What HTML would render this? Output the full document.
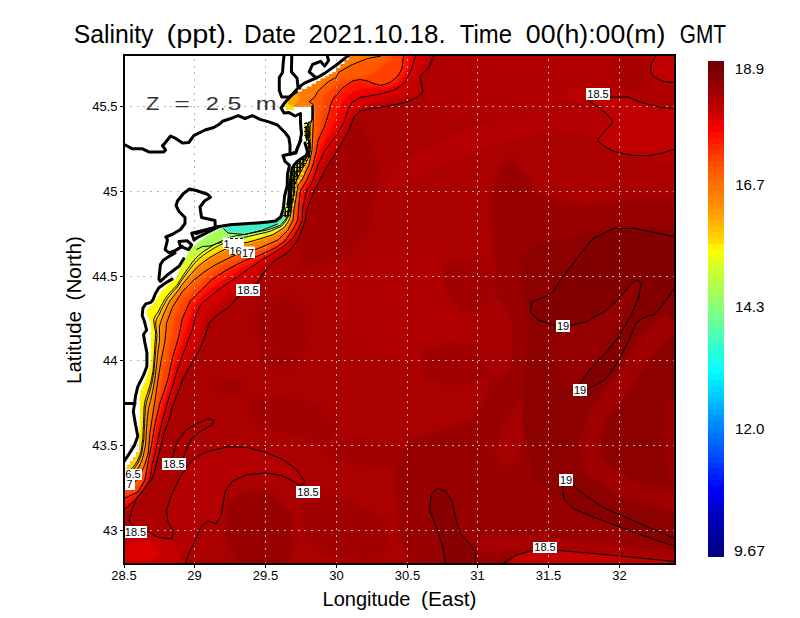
<!DOCTYPE html>
<html><head><meta charset="utf-8"><title>Salinity</title>
<style>
html,body{margin:0;padding:0;background:#fff;width:800px;height:618px;overflow:hidden;}
svg{display:block;}
text{font-family:"Liberation Sans",sans-serif;}
</style></head><body>
<svg width="800" height="618" viewBox="0 0 800 618">
<rect width="800" height="618" fill="#fff"/>

<defs>
<clipPath id="sea"><path d="M353.0 55.0 L677.0 55.0 L677.0 566.0 L121.0 566.0 L121.0 468.0 L127.0 468.0 L127.0 465.0 L130.0 465.0 L130.0 461.0 L133.0 461.0 L133.0 457.0 L136.0 457.0 L136.0 452.0 L139.0 452.0 L139.0 444.0 L139.5 430.0 L140.0 410.0 L139.5 398.0 L140.5 391.0 L144.6 382.0 L148.0 373.0 L150.5 362.0 L151.0 345.0 L151.0 330.0 L150.5 322.5 L148.0 318.0 L146.5 311.0 L148.5 307.5 L153.5 304.0 L157.0 298.0 L161.0 292.0 L168.0 285.0 L175.5 279.0 L179.5 270.0 L185.0 260.0 L188.0 253.0 L192.0 248.0 L197.0 243.0 L208.0 235.0 L222.0 228.0 L230.0 226.0 L245.0 224.5 L260.0 223.5 L276.0 222.0 L282.0 217.0 L285.0 210.0 L287.0 200.0 L288.0 185.0 L289.5 175.0 L292.0 167.0 L297.0 161.0 L302.0 157.0 L307.0 153.0 L307.0 143.0 L304.0 135.0 L304.0 123.0 L311.0 121.0 L311.0 107.0 L294.0 107.0 L294.0 110.0 L286.0 110.0 L286.0 103.0 L292.0 97.0 L297.0 94.0 L297.0 91.8 L301.9 91.8 L301.9 89.1 L306.7 89.1 L306.7 86.4 L311.6 86.4 L311.6 83.7 L316.1 83.7 L316.1 81.0 L320.5 81.0 L320.5 78.3 L325.0 78.3 L325.0 76.2 L328.7 76.2 L328.7 74.1 L332.3 74.1 L332.3 72.0 L336.0 72.0 L336.0 68.0 L340.2 68.0 L340.2 64.0 L344.5 64.0 L344.5 60.0 L348.8 60.0 L348.8 56.0 Z"/></clipPath>
<clipPath id="plot"><rect x="125" y="56" width="549" height="507"/></clipPath>
<filter id="bl" x="-5%" y="-5%" width="110%" height="110%"><feGaussianBlur stdDeviation="1.6"/></filter>
<linearGradient id="gIn" gradientUnits="userSpaceOnUse" x1="290" y1="210" x2="140" y2="470"><stop offset="0" stop-color="#40f0c8"/><stop offset="0.12" stop-color="#48f4c0"/><stop offset="0.2" stop-color="#90ff70"/><stop offset="0.3" stop-color="#c8ff38"/><stop offset="0.42" stop-color="#ffff00"/><stop offset="0.85" stop-color="#ffee00"/><stop offset="1" stop-color="#ffb400"/></linearGradient>
<linearGradient id="gIn2" gradientUnits="userSpaceOnUse" x1="290" y1="210" x2="140" y2="470"><stop offset="0" stop-color="#58ffa8"/><stop offset="0.12" stop-color="#70ff90"/><stop offset="0.22" stop-color="#b0ff50"/><stop offset="0.32" stop-color="#e0ff20"/><stop offset="0.4" stop-color="#ffff00"/><stop offset="1" stop-color="#ffe000"/></linearGradient>
<linearGradient id="gIn3" gradientUnits="userSpaceOnUse" x1="290" y1="210" x2="140" y2="470"><stop offset="0" stop-color="#a8ff58"/><stop offset="0.15" stop-color="#c0ff40"/><stop offset="0.25" stop-color="#e8ff18"/><stop offset="0.35" stop-color="#ffff00"/><stop offset="0.55" stop-color="#ffd800"/><stop offset="1" stop-color="#ffc000"/></linearGradient>
<linearGradient id="gIn4" gradientUnits="userSpaceOnUse" x1="290" y1="210" x2="140" y2="470"><stop offset="0" stop-color="#f0ff10"/><stop offset="0.15" stop-color="#ffff00"/><stop offset="0.3" stop-color="#ffd000"/><stop offset="0.55" stop-color="#ffac00"/><stop offset="1" stop-color="#ffa000"/></linearGradient>
</defs>
<g clip-path="url(#sea)"><g clip-path="url(#plot)"><g filter="url(#bl)">
<rect x="100" y="40" width="600" height="540" fill="#aa0000"/>
<path d="M420.0 50.0 L690.0 50.0 L690.0 98.0 L640.0 97.0 L600.0 100.0 L560.0 106.0 L520.0 112.0 L480.0 118.0 L440.0 116.0 L425.0 104.0 Z" fill="#b20000"/>
<path d="M385.0 178.0 L405.0 160.0 L440.0 140.0 L480.0 125.0 L520.0 115.0 L560.0 108.0 L600.0 108.0 L625.0 118.0 L650.0 135.0 L690.0 140.0 L690.0 165.0 L650.0 162.0 L615.0 150.0 L585.0 135.0 L555.0 130.0 L520.0 138.0 L480.0 150.0 L440.0 168.0 L405.0 185.0 L390.0 192.0 Z" fill="#b40000"/>
<path d="M335.0 265.0 L370.0 250.0 L420.0 248.0 L470.0 262.0 L480.0 300.0 L470.0 340.0 L440.0 360.0 L390.0 360.0 L350.0 345.0 L330.0 310.0 Z" fill="#b00000"/>
<path d="M300.0 110.0 L330.0 100.0 L360.0 120.0 L380.0 170.0 L370.0 230.0 L340.0 260.0 L300.0 270.0 Z" fill="#a20000"/>
<path d="M258.0 300.0 L290.0 295.0 L305.0 310.0 L307.0 340.0 L300.0 365.0 L280.0 372.0 L262.0 360.0 L255.0 330.0 Z" fill="#a20000"/>
<path d="M212.0 385.0 L230.0 378.0 L245.0 382.0 L240.0 392.0 L220.0 395.0 Z" fill="#a20000"/>
<path d="M245.0 400.0 L280.0 395.0 L320.0 405.0 L337.0 425.0 L330.0 440.0 L300.0 438.0 L270.0 430.0 L250.0 418.0 Z" fill="#a20000"/>
<path d="M228.0 500.0 L250.0 490.0 L275.0 495.0 L292.0 515.0 L295.0 545.0 L285.0 570.0 L240.0 570.0 L225.0 540.0 Z" fill="#980000"/>
<path d="M300.0 500.0 L330.0 495.0 L360.0 505.0 L385.0 520.0 L390.0 545.0 L370.0 560.0 L330.0 555.0 L305.0 535.0 Z" fill="#a00000"/>
<path d="M320.0 445.0 L360.0 440.0 L400.0 448.0 L420.0 460.0 L400.0 470.0 L360.0 466.0 L330.0 458.0 Z" fill="#a20000"/>
<path d="M442.0 262.0 L480.0 258.0 L495.0 280.0 L490.0 316.0 L460.0 312.0 L445.0 290.0 Z" fill="#a20000"/>
<path d="M420.0 350.0 L450.0 342.0 L485.0 345.0 L490.0 380.0 L460.0 386.0 L425.0 380.0 Z" fill="#a20000"/>
<path d="M490.0 200.0 L500.0 165.0 L512.0 158.0 L525.0 175.0 L540.0 195.0 L560.0 200.0 L590.0 205.0 L620.0 200.0 L690.0 195.0 L690.0 580.0 L420.0 580.0 L400.0 540.0 L394.0 470.0 L410.0 440.0 L440.0 430.0 L470.0 420.0 L485.0 400.0 L495.0 360.0 L497.0 320.0 L495.0 260.0 Z" fill="#990000"/>
<path d="M505.0 470.0 L520.0 450.0 L540.0 430.0 L548.0 400.0 L540.0 380.0 L520.0 400.0 L500.0 430.0 L495.0 455.0 Z" fill="#a60000"/>
<path d="M480.0 306.0 L500.0 300.0 L512.0 320.0 L511.0 370.0 L495.0 380.0 L482.0 360.0 Z" fill="#a80000"/>
<path d="M520.0 255.0 L535.0 245.0 L560.0 240.0 L590.0 232.0 L620.0 226.0 L690.0 228.0 L690.0 545.0 L640.0 530.0 L600.0 515.0 L560.0 500.0 L535.0 480.0 L522.0 420.0 L528.0 330.0 Z" fill="#8c0000"/>
<path d="M563.0 326.0 L641.0 282.0 L580.0 390.0 L560.0 380.0 L548.0 350.0 Z" fill="#940000"/>
<path d="M665.6 314.3 L652.8 325.1 L637.0 344.0 L611.8 379.2 L588.1 413.4 L579.0 444.6 L587.3 474.4 L620.8 497.1 L657.6 507.7 L693.0 514.8 L697.0 495.2 L662.4 488.3 L629.2 478.9 L602.7 461.6 L599.0 445.4 L605.9 422.6 L628.2 390.8 L653.0 356.0 L667.2 338.9 L678.4 329.7 Z" fill="#a00000"/>
<path d="M664.0 400.0 L690.0 395.0 L690.0 500.0 L668.0 482.0 L662.0 440.0 Z" fill="#980000"/>
<path d="M480.0 535.0 L520.0 535.0 L560.0 538.0 L600.0 542.0 L640.0 548.0 L690.0 552.0 L690.0 562.0 L640.0 558.0 L596.0 554.0 L557.0 551.0 L520.0 549.0 L480.0 552.0 Z" fill="#a80000"/>
<path d="M583.4 250.0 L593.0 238.7 L613.8 228.4 L634.5 228.4 L676.0 237.0 L690.0 240.0 L690.0 286.0 L676.0 286.2 L664.9 301.7 L654.5 314.7 L646.8 316.0 L636.4 322.4 L628.7 340.6 L618.3 361.3 L605.4 379.4 L587.3 389.7 L579.5 384.0 L592.4 366.4 L605.4 353.5 L619.6 335.4 L631.3 314.7 L639.0 296.6 L641.1 283.6 L637.7 279.8 L631.3 283.6 L618.3 299.2 L605.4 310.8 L587.3 321.2 L569.7 325.8 L556.0 325.8 L538.1 319.9 L530.3 312.1 L531.6 301.7 L545.9 296.6 L553.6 291.4 L561.4 278.5 L571.7 265.5 Z" fill="#820000"/>
<path d="M562.4 486.0 L564.0 499.2 L573.6 508.8 L592.8 516.8 L618.4 526.4 L644.0 536.0 L672.8 545.6 L690.0 548.0 L690.0 539.0 L676.0 539.2 L650.4 528.0 L624.8 516.8 L605.6 508.8 L586.4 496.0 L572.0 484.8 Z" fill="#860000"/>
<path d="M445.6 566.0 L442.4 545.6 L436.0 526.4 L429.6 510.4 L431.2 494.4 L437.6 488.0 L445.6 491.2 L452.0 500.8 L455.2 516.8 L460.0 532.8 L471.2 545.6 L476.0 553.6 L474.4 566.0 Z" fill="#880000"/>
<path d="M585.8 97.5 L589.5 101.2 L596.9 105.8 L606.1 113.2 L612.6 120.6 L611.7 124.3 L606.1 129.8 L599.7 137.2 L597.8 140.9 L604.3 146.4 L615.4 152.0 L633.8 155.6 L648.6 155.6 L663.3 152.9 L690.0 147.0 L690.0 109.0 L676.0 108.6 L663.3 107.7 L648.6 104.3 L637.5 101.2 L628.3 97.0 L609.8 97.0 Z" fill="#c00000"/>
<path d="M612.0 50.0 L640.0 50.0 L648.0 70.0 L652.0 85.0 L640.0 93.0 L625.0 92.0 L615.0 75.0 Z" fill="#a80000"/>
<path d="M656.0 50.0 L651.0 64.0 L650.4 72.0 L654.0 77.0 L663.0 81.5 L690.0 83.0 L690.0 50.0 Z" fill="#c00000"/>
<path d="M568.0 92.0 L578.0 88.0 L588.0 92.0 L590.0 100.0 L578.0 102.0 L568.0 99.0 Z" fill="#c00000"/>
<path d="M501.6 570.0 L516.0 555.2 L532.0 550.4 L545.0 548.0 L557.0 550.4 L596.0 553.6 L644.0 558.4 L690.0 561.6 L690.0 570.0 Z" fill="#c80000"/>
<path d="M433.5 54.0 L433.5 56.0 L429.0 67.5 L420.0 76.5 L421.5 84.0 L423.0 91.5 L417.0 97.5 L406.5 102.0 L390.0 105.8 L375.0 108.0 L360.0 111.0 L354.0 117.0 L349.5 129.0 L345.0 137.0 L338.0 150.0 L328.0 165.0 L320.0 180.0 L317.5 185.0 L314.1 191.0 L306.8 210.0 L305.3 220.0 L302.0 230.0 L298.0 240.0 L291.0 249.0 L285.0 254.5 L275.0 260.3 L268.5 266.8 L263.3 273.3 L259.4 279.7 L256.0 286.0 L248.0 292.0 L238.6 296.5 L228.9 307.2 L217.2 315.0 L209.4 322.7 L205.6 334.4 L199.7 349.9 L193.9 359.6 L186.1 373.2 L182.3 380.0 L179.1 389.7 L172.6 405.9 L169.3 418.9 L164.5 431.8 L161.2 444.8 L158.0 457.7 L154.8 470.7 L151.5 480.0 L146.0 487.0 L138.0 496.0 L132.0 509.0 L129.0 521.0 L135.0 528.0 L147.0 531.0 L158.3 537.5 L172.0 538.9 L173.4 532.0 L167.9 521.0 L166.5 510.0 L172.0 493.5 L180.3 477.0 L191.3 460.5 L205.0 452.3 L227.0 446.8 L246.3 447.3 L265.5 452.3 L282.0 459.1 L295.8 468.8 L305.0 482.0 L300.0 486.0 L295.8 482.5 L282.0 475.6 L265.5 472.9 L246.3 474.8 L232.5 481.1 L225.6 490.8 L222.9 504.5 L221.0 515.5 L216.0 523.8 L207.8 521.0 L200.9 526.5 L195.4 540.3 L188.5 554.0 L184.4 566.0 L184.4 570.0 L110.0 570.0 L110.0 54.0 Z" fill="#b40000"/>
<path d="M431.3 54.0 L431.0 56.9 L429.9 59.7 L428.9 62.5 L427.8 65.3 L426.5 68.0 L424.5 70.2 L422.5 72.4 L420.5 74.5 L418.5 76.7 L418.8 79.6 L419.1 82.5 L419.3 85.3 L419.6 88.1 L419.8 90.9 L417.9 93.0 L415.7 95.0 L413.4 96.9 L410.7 98.0 L407.9 99.1 L405.1 100.3 L402.3 101.3 L399.4 101.9 L396.5 102.6 L393.6 103.2 L390.6 103.8 L387.7 104.5 L384.8 105.0 L381.9 105.6 L378.9 106.1 L376.0 106.7 L373.2 107.4 L370.4 108.2 L367.7 109.0 L365.0 109.8 L362.3 110.7 L359.6 111.5 L357.2 113.0 L355.2 115.2 L353.2 117.4 L351.8 120.0 L350.7 122.8 L349.6 125.5 L348.4 128.3 L347.2 131.0 L345.7 133.6 L344.2 136.2 L342.7 138.8 L341.2 141.4 L339.7 144.0 L338.3 146.6 L336.9 149.2 L335.4 151.8 L333.8 154.3 L332.2 156.9 L330.6 159.4 L329.0 161.9 L327.4 164.4 L325.9 167.0 L324.6 169.7 L323.2 172.3 L321.8 175.0 L320.5 177.7 L319.0 180.3 L317.6 182.9 L316.2 185.6 L314.9 188.2 L313.5 190.9 L312.4 193.6 L311.3 196.4 L310.3 199.2 L309.3 202.0 L308.3 204.9 L307.4 207.7 L306.4 210.5 L305.9 213.4 L305.4 216.4 L304.9 219.3 L304.1 222.2 L303.1 225.0 L302.1 227.8 L301.1 230.6 L300.0 233.4 L298.7 236.1 L297.5 238.7 L296.0 241.3 L294.1 243.6 L292.2 245.9 L290.3 248.2 L288.2 250.3 L285.9 252.2 L283.7 254.2 L281.1 255.8 L278.5 257.3 L276.0 258.8 L273.4 260.3 L271.2 262.4 L269.1 264.4 L266.9 266.5 L265.0 268.7 L263.0 271.0 L261.1 273.3 L259.5 275.8 L257.8 278.2 L256.2 280.8 L254.7 283.3 L252.9 285.6 L250.5 287.3 L248.1 289.1 L245.7 290.9 L243.0 292.2 L240.3 293.6 L237.6 294.9 L235.3 296.7 L233.3 298.9 L231.2 301.0 L229.2 303.2 L227.1 305.4 L224.8 307.2 L222.3 308.9 L219.8 310.6 L217.4 312.3 L215.0 314.1 L213.0 316.3 L211.0 318.4 L208.9 320.6 L207.4 323.1 L206.5 325.9 L205.6 328.8 L204.7 331.6 L203.7 334.5 L202.7 337.3 L201.6 340.1 L200.6 342.9 L199.5 345.7 L198.4 348.5 L197.1 351.1 L195.6 353.7 L194.1 356.3 L192.6 358.9 L191.2 361.5 L189.7 364.1 L188.3 366.8 L186.9 369.4 L185.5 372.0 L184.0 374.6 L182.6 377.3 L181.3 380.0 L180.4 382.8 L179.5 385.6 L178.6 388.5 L177.5 391.3 L176.4 394.1 L175.3 396.9 L174.2 399.7 L173.1 402.4 L172.1 405.2 L171.3 408.1 L170.6 411.0 L169.8 413.9 L169.1 416.8 L168.2 419.7 L167.2 422.5 L166.2 425.3 L165.2 428.1 L164.1 430.9 L163.4 433.8 L162.7 436.7 L161.9 439.6 L161.2 442.5 L160.5 445.4 L159.8 448.4 L159.1 451.3 L158.4 454.2 L157.7 457.1 L157.0 460.0 L156.2 462.9 L155.5 465.8 L154.8 468.7 L153.9 471.6 L153.0 474.4 L152.1 477.2 L150.9 479.9 L149.2 482.4 L147.5 484.8 L145.7 487.1 L143.7 489.4 L141.8 491.7 L139.8 493.9 L138.0 496.3 L136.3 498.8 L134.7 501.3 L133.0 503.7 L131.3 506.2 L129.6 508.6 L127.9 511.1 L126.2 513.5 L124.4 515.9 L122.7 518.4 L121.0 520.8 L121.0 520.0 L110.0 520.0 L110.0 54.0 Z" fill="#c20000"/>
<path d="M423.6 54.0 L423.3 56.9 L422.3 59.7 L421.4 62.5 L420.4 65.3 L419.3 68.0 L417.9 70.5 L416.2 72.8 L414.5 75.2 L412.8 77.6 L412.4 80.4 L411.6 82.9 L410.6 85.1 L409.6 87.4 L408.5 89.7 L406.4 91.6 L403.9 92.9 L401.4 94.3 L398.6 95.2 L395.8 96.2 L393.0 97.1 L390.2 98.0 L387.3 98.6 L384.4 99.1 L381.5 99.7 L378.6 100.3 L375.7 100.8 L372.8 101.3 L370.1 102.3 L367.4 103.3 L364.7 104.3 L362.4 105.8 L360.3 107.5 L358.1 109.1 L356.3 110.9 L354.5 112.7 L352.7 114.4 L351.0 116.6 L349.5 119.0 L347.7 121.3 L346.3 123.9 L345.0 126.5 L343.7 129.2 L342.4 131.8 L340.9 134.3 L339.3 136.8 L337.7 139.3 L336.1 141.7 L334.5 144.2 L332.9 146.7 L331.5 149.3 L330.1 151.9 L328.7 154.5 L327.3 157.1 L325.8 159.6 L324.4 162.2 L323.1 164.8 L321.9 167.5 L320.7 170.2 L319.5 172.9 L318.4 175.6 L317.2 178.3 L315.9 180.9 L314.4 183.4 L312.8 185.9 L311.3 188.5 L310.4 191.2 L309.4 194.0 L308.5 196.8 L307.7 199.6 L306.9 202.4 L306.1 205.2 L305.5 208.1 L304.9 211.0 L304.4 213.8 L304.1 216.7 L303.3 219.5 L302.5 222.4 L301.6 225.1 L300.3 227.8 L299.1 230.5 L297.9 233.1 L296.6 235.8 L294.8 238.1 L293.1 240.4 L291.3 242.6 L289.3 244.7 L287.1 246.7 L284.9 248.7 L282.7 250.5 L280.4 252.3 L278.0 254.1 L275.5 255.6 L272.9 257.1 L270.4 258.6 L267.8 260.1 L265.5 261.9 L263.3 263.8 L261.0 265.6 L258.8 267.6 L256.6 269.5 L254.5 271.5 L252.5 273.6 L250.5 275.7 L248.6 277.8 L246.6 279.9 L244.5 281.9 L242.1 283.6 L239.7 285.3 L237.2 287.0 L234.7 288.5 L232.2 289.9 L229.6 291.4 L227.3 293.2 L225.1 295.2 L223.0 297.2 L220.8 299.2 L218.6 301.2 L216.3 303.0 L214.0 304.8 L211.6 306.5 L209.4 308.5 L207.6 310.6 L205.9 313.0 L204.2 315.4 L202.6 317.8 L201.4 320.4 L200.6 323.2 L199.8 326.1 L199.0 328.9 L198.2 331.8 L197.2 334.6 L196.2 337.3 L195.1 340.1 L194.1 342.8 L193.0 345.6 L191.8 348.3 L190.6 350.9 L189.3 353.6 L188.1 356.2 L186.8 358.9 L185.6 361.6 L184.4 364.3 L183.2 367.0 L182.0 369.6 L180.8 372.3 L179.7 375.0 L178.6 377.8 L177.7 380.6 L176.8 383.4 L176.0 386.2 L175.0 389.0 L174.0 391.8 L173.0 394.6 L172.0 397.3 L171.1 400.1 L170.1 402.9 L169.4 405.8 L168.6 408.6 L167.8 411.5 L167.1 414.3 L166.2 417.2 L165.3 420.0 L164.4 422.8 L163.5 425.6 L162.7 428.4 L161.9 431.3 L161.2 434.1 L160.6 437.0 L159.9 439.9 L159.3 442.8 L158.6 445.7 L158.0 448.5 L157.4 451.4 L156.6 454.3 L155.9 457.1 L155.2 460.0 L154.5 462.9 L153.8 465.7 L153.0 468.6 L152.4 471.4 L151.7 474.3 L150.9 477.1 L149.8 479.7 L148.7 482.4 L147.0 484.8 L145.2 487.1 L143.4 489.5 L141.7 491.8 L139.9 494.2 L138.3 496.7 L136.5 499.0 L134.6 501.2 L132.7 503.5 L130.9 505.8 L129.0 508.0 L127.0 510.2 L125.0 512.3 L123.0 514.4 L121.0 516.5 L121.0 515.0 L110.0 515.0 L110.0 54.0 Z" fill="#d60000"/>
<path d="M415.5 54.0 L415.5 56.0 L411.0 70.5 L405.0 82.5 L394.5 90.0 L378.0 94.5 L360.0 97.5 L352.5 102.0 L348.0 109.5 L344.0 122.0 L336.5 135.0 L325.3 150.0 L318.0 165.0 L313.0 180.0 L310.8 185.0 L306.3 191.0 L302.5 210.0 L302.3 220.0 L299.0 228.0 L293.0 238.3 L284.0 246.1 L272.4 253.8 L263.3 259.0 L255.5 264.2 L247.8 269.4 L240.0 275.2 L232.7 280.0 L221.1 287.8 L211.4 295.5 L201.7 303.3 L195.8 315.0 L192.0 330.5 L186.1 346.0 L180.3 361.6 L176.4 373.2 L172.6 386.0 L169.3 396.2 L162.9 418.9 L159.6 431.8 L156.4 448.0 L152.3 464.2 L149.9 480.0 L140.0 495.0 L130.0 505.0 L121.0 512.0 L110.0 512.0 L110.0 54.0 Z" fill="#f00000"/>
<path d="M409.5 54.0 L409.3 56.9 L408.7 59.7 L408.1 62.6 L407.5 65.4 L406.9 68.3 L405.8 70.9 L404.4 73.5 L403.0 76.1 L401.3 78.3 L399.5 80.5 L397.4 82.5 L394.9 84.0 L392.4 85.3 L389.8 86.6 L387.2 87.6 L384.4 87.7 L381.6 87.7 L378.8 87.5 L376.0 87.3 L373.2 87.3 L370.4 87.4 L367.5 87.3 L364.7 87.8 L361.8 88.3 L359.0 89.0 L356.3 90.0 L353.7 91.1 L351.3 92.7 L348.8 94.3 L346.6 96.1 L344.8 98.4 L343.1 100.8 L341.4 103.1 L340.0 105.6 L339.1 108.4 L338.1 111.1 L337.2 113.9 L336.5 116.7 L335.3 119.3 L334.1 122.0 L333.0 124.7 L331.8 127.3 L330.6 130.0 L329.3 132.5 L327.8 135.0 L326.3 137.5 L324.8 140.0 L323.3 142.5 L321.9 145.0 L321.0 147.7 L320.1 150.5 L319.2 153.2 L318.3 156.0 L317.3 158.7 L316.3 161.4 L315.5 164.2 L314.7 167.0 L313.9 169.8 L312.9 172.6 L311.8 175.3 L310.8 178.0 L309.6 180.7 L308.3 183.3 L306.7 185.7 L305.2 188.2 L304.1 190.8 L303.0 193.5 L302.3 196.3 L301.9 199.2 L301.5 202.0 L301.1 204.9 L300.8 207.8 L300.6 210.7 L300.4 213.7 L300.3 216.6 L299.6 219.4 L298.9 222.2 L298.0 224.9 L296.6 227.5 L295.2 230.0 L293.8 232.6 L292.2 235.0 L290.3 237.2 L288.3 239.3 L286.4 241.5 L284.4 243.6 L282.0 245.3 L279.6 246.9 L277.2 248.6 L274.8 250.2 L272.2 251.6 L269.7 253.0 L267.1 254.4 L264.5 255.7 L261.9 257.0 L259.4 258.4 L256.8 259.8 L254.2 261.1 L251.6 262.4 L249.0 263.7 L246.5 265.1 L244.0 266.5 L241.5 268.0 L239.0 269.5 L236.5 271.0 L234.0 272.5 L231.5 274.0 L229.0 275.5 L226.5 277.1 L224.1 278.7 L221.7 280.3 L219.2 281.9 L216.9 283.6 L214.5 285.3 L212.3 287.2 L210.1 289.1 L207.9 291.1 L205.7 293.0 L203.6 295.0 L201.4 296.9 L199.4 299.0 L197.8 301.4 L196.1 303.7 L194.4 306.0 L192.8 308.4 L191.8 311.2 L190.9 313.9 L190.0 316.7 L189.0 319.4 L188.1 322.2 L187.1 324.9 L186.2 327.7 L185.4 330.5 L184.6 333.3 L183.8 336.1 L183.0 338.9 L182.2 341.7 L181.4 344.5 L180.4 347.2 L179.5 350.0 L178.6 352.8 L177.7 355.5 L176.8 358.3 L175.9 361.1 L175.0 363.9 L174.2 366.7 L173.5 369.5 L172.8 372.3 L172.1 375.2 L171.4 378.0 L170.7 380.8 L169.9 383.6 L169.0 386.4 L168.1 389.2 L167.3 392.0 L166.4 394.8 L165.6 397.6 L164.7 400.4 L163.8 403.1 L163.0 405.9 L162.1 408.7 L161.3 411.5 L160.6 414.4 L159.9 417.2 L159.2 420.0 L158.5 422.9 L157.9 425.7 L157.2 428.6 L156.6 431.4 L156.1 434.3 L155.6 437.2 L155.1 440.0 L154.5 442.9 L153.9 445.7 L153.3 448.6 L152.7 451.5 L152.1 454.3 L151.4 457.1 L150.8 460.0 L150.3 462.9 L149.8 465.8 L149.4 468.6 L148.9 471.5 L148.4 474.4 L147.4 477.1 L146.3 479.7 L145.3 482.4 L144.2 485.0 L142.6 487.5 L141.1 490.0 L139.4 492.3 L137.6 494.6 L135.6 496.6 L133.2 498.3 L130.9 499.9 L128.4 501.5 L125.9 503.0 L123.5 504.5 L121.0 506.0 L110.0 505.0 L110.0 54.0 Z" fill="#ff1400"/>
<path d="M403.5 54.0 L403.5 56.0 L402.0 69.0 L397.5 76.5 L390.0 82.5 L381.0 85.5 L375.0 84.0 L367.5 81.0 L360.0 79.5 L352.5 81.0 L342.0 88.5 L333.0 99.0 L330.0 106.5 L329.8 109.4 L324.6 126.2 L318.1 140.4 L316.6 150.0 L313.0 165.0 L307.0 180.0 L304.0 185.0 L300.3 191.0 L298.5 210.0 L297.8 220.0 L294.0 228.0 L285.0 240.9 L276.2 247.4 L265.9 252.5 L256.8 256.4 L249.0 259.0 L240.0 262.9 L225.0 271.0 L211.4 280.0 L201.7 289.7 L190.0 301.4 L182.3 318.8 L178.4 338.3 L172.5 357.7 L168.5 377.0 L164.5 390.0 L159.6 404.3 L154.8 425.3 L151.5 444.8 L148.3 461.0 L145.0 480.0 L138.0 492.0 L121.0 500.0 L110.0 500.0 L110.0 54.0 Z" fill="#ff4000"/>
<path d="M392.2 54.0 L391.8 56.5 L390.2 58.2 L388.7 60.0 L387.1 61.7 L385.5 63.4 L383.5 65.0 L381.5 66.8 L379.4 68.6 L377.0 70.1 L374.5 71.5 L372.1 73.0 L369.5 74.3 L366.9 75.4 L364.3 76.6 L361.6 77.5 L359.0 77.8 L356.5 78.2 L354.5 78.9 L352.4 79.6 L349.7 79.8 L347.1 80.2 L344.4 80.6 L341.9 81.8 L339.4 83.0 L337.0 84.4 L334.8 86.2 L332.6 88.1 L330.6 90.1 L328.8 92.2 L326.9 94.3 L324.8 96.3 L323.0 98.3 L323.2 100.2 L323.0 102.4 L322.6 105.2 L322.1 108.0 L321.7 110.8 L321.4 113.6 L321.0 116.5 L320.5 119.3 L320.0 122.1 L319.5 124.9 L319.1 127.7 L318.5 130.5 L317.8 133.2 L317.1 136.0 L316.4 138.7 L315.8 141.5 L315.1 144.2 L314.7 147.1 L314.2 149.9 L313.7 152.8 L313.1 155.6 L312.5 158.4 L311.9 161.2 L311.0 163.9 L310.1 166.6 L309.0 169.3 L307.9 171.9 L306.7 174.6 L305.6 177.2 L304.2 179.7 L302.7 182.1 L301.6 184.7 L300.6 187.4 L299.6 190.0 L298.7 192.7 L298.0 195.4 L297.6 198.3 L297.3 201.1 L296.9 204.0 L296.6 206.9 L296.3 209.7 L296.0 212.6 L295.7 215.5 L295.4 218.3 L294.6 221.0 L293.6 223.7 L292.3 226.3 L290.9 228.7 L289.2 231.0 L287.4 233.2 L285.5 235.4 L283.7 237.6 L281.7 239.7 L279.5 241.4 L277.1 242.8 L274.6 244.2 L272.1 245.7 L269.6 247.0 L267.0 248.2 L264.3 249.4 L261.7 250.5 L259.0 251.6 L256.3 252.5 L253.6 253.3 L250.8 254.2 L248.1 255.0 L245.3 255.8 L242.6 256.8 L240.0 258.0 L237.4 259.2 L234.7 260.3 L232.2 261.7 L229.6 263.0 L227.1 264.3 L224.5 265.6 L222.0 267.0 L219.4 268.4 L217.0 269.9 L214.6 271.5 L212.2 273.1 L209.8 274.6 L207.4 276.3 L205.2 278.1 L203.1 280.0 L200.9 281.9 L198.8 283.9 L196.8 285.9 L194.7 287.9 L192.7 290.0 L190.7 292.0 L188.6 294.1 L186.7 296.2 L185.0 298.5 L183.6 301.0 L182.3 303.6 L180.9 306.1 L179.6 308.6 L178.2 311.2 L177.1 313.8 L176.3 316.5 L175.5 319.3 L174.7 322.1 L173.9 324.8 L173.1 327.6 L172.7 330.4 L172.3 333.3 L171.7 336.1 L171.2 338.9 L170.6 341.7 L170.0 344.5 L169.5 347.3 L168.7 350.1 L168.0 352.9 L167.5 355.7 L166.9 358.6 L166.3 361.4 L165.7 364.2 L165.2 367.0 L164.7 369.9 L164.1 372.7 L163.5 375.5 L162.8 378.3 L162.2 381.1 L161.5 383.9 L160.8 386.7 L160.2 389.4 L159.5 392.2 L158.8 395.0 L158.1 397.8 L157.5 400.6 L157.0 403.4 L156.4 406.3 L155.9 409.1 L155.3 411.9 L154.8 414.7 L154.2 417.6 L153.7 420.4 L153.3 423.2 L152.8 426.1 L152.3 428.9 L151.9 431.8 L151.4 434.6 L151.0 437.4 L150.5 440.3 L150.1 443.1 L149.7 446.0 L149.3 448.8 L148.9 451.7 L148.5 454.5 L148.2 457.4 L147.6 460.2 L147.0 463.0 L146.4 465.8 L145.7 468.6 L145.0 471.4 L144.1 474.1 L142.7 476.6 L141.4 479.2 L140.0 481.7 L138.5 484.1 L136.7 486.3 L134.4 487.9 L131.7 489.0 L129.1 490.0 L126.4 491.0 L123.7 492.0 L121.0 493.0 L110.0 490.0 L110.0 54.0 Z" fill="#ff5a00"/>
<path d="M381.0 54.0 L381.0 56.0 L367.5 58.5 L352.5 64.5 L339.0 72.0 L336.0 77.5 L328.6 81.5 L322.2 87.2 L317.3 92.0 L314.9 96.9 L309.2 101.7 L313.0 104.2 L313.6 109.4 L313.0 130.0 L312.0 150.0 L309.0 165.0 L302.0 180.0 L298.0 185.0 L297.0 191.0 L294.0 210.0 L293.0 220.0 L288.0 230.0 L278.0 240.0 L262.0 247.0 L254.0 250.0 L240.0 253.0 L229.0 258.0 L215.0 265.0 L204.0 272.0 L193.9 280.0 L182.3 291.7 L172.5 307.2 L166.7 322.7 L164.8 342.1 L160.9 361.6 L158.0 380.0 L155.1 400.0 L153.1 412.4 L149.9 433.4 L148.3 452.9 L145.0 464.2 L140.0 475.0 L135.0 482.0 L121.0 486.0 L110.0 486.0 L110.0 54.0 Z" fill="#ff7c00"/>
<path d="M312.4 105.1 L312.5 107.4 L312.7 109.8 L312.7 112.1 L312.7 114.5 L312.6 116.8 L312.6 119.2 L311.8 121.0 L311.0 122.8 L310.2 124.6 L310.2 126.9 L310.1 129.3 L310.0 131.6 L310.0 134.0 L309.9 136.3 L310.0 138.6 L310.2 140.9 L310.4 143.2 L310.5 145.6 L310.4 147.9 L310.2 150.3 L309.9 152.6 L309.6 154.9 L308.7 156.9 L307.8 159.0 L306.9 161.0 L306.0 163.1 L304.7 165.0 L303.5 167.0 L302.4 169.0 L301.2 171.0 L300.1 173.1 L299.2 175.3 L298.3 177.4 L297.1 179.4 L295.9 181.4 L295.0 183.5 L294.6 185.8 L294.3 188.1 L293.9 190.4 L293.6 192.8 L293.3 195.1 L293.0 197.4 L292.7 199.8 L292.4 202.1 L292.1 204.4 L291.7 206.8 L291.4 209.1 L291.1 211.4 L290.8 213.7 L290.4 216.0 L289.8 218.3 L288.8 220.4 L287.6 222.5 L286.3 224.4 L285.1 226.3 L283.5 228.0 L281.7 229.2 L279.8 230.4 L277.9 231.6 L276.0 232.8 L274.1 234.0 L272.1 235.0 L269.9 235.7 L267.6 236.4 L265.4 237.1 L263.2 237.8 L261.0 238.5 L258.8 239.2 L256.5 239.8 L254.3 240.5 L252.0 241.1 L249.8 241.7 L247.5 242.3 L245.2 242.7 L242.9 243.1 L240.6 243.6 L238.3 244.1 L236.0 244.6 L233.7 245.2 L231.6 246.2 L229.5 247.2 L227.3 248.2 L225.2 249.2 L223.1 250.2 L221.0 251.3 L218.9 252.4 L216.9 253.5 L214.8 254.7 L212.8 255.9 L210.7 257.0 L208.7 258.3 L206.8 259.6 L204.9 261.0 L203.0 262.4 L201.2 263.8 L199.4 265.3 L197.7 266.8 L196.1 268.5 L194.5 270.2 L193.0 271.9 L191.4 273.5 L189.8 275.3 L188.3 277.1 L186.9 278.9 L185.4 280.7 L183.9 282.5 L182.5 284.3 L181.0 286.1 L179.8 288.1 L178.5 290.0 L177.0 291.8 L175.6 293.7 L174.1 295.5 L172.7 297.3 L171.3 299.2 L169.9 301.1 L168.8 303.1 L167.7 305.2 L166.7 307.3 L165.8 309.4 L164.8 311.6 L163.8 313.7 L162.9 315.9 L162.2 318.0 L161.5 320.1 L160.7 322.1 L160.1 324.2 L159.5 326.5 L159.5 328.8 L159.5 331.1 L159.5 333.5 L159.6 335.7 L159.6 338.0 L159.5 340.2 L159.2 342.6 L158.9 344.9 L158.7 347.2 L158.3 349.5 L158.0 351.9 L157.7 354.2 L157.5 356.5 L157.2 358.8 L157.0 361.2 L156.7 363.5 L156.4 365.8 L156.2 368.2 L155.9 370.5 L155.6 372.9 L155.4 375.2 L155.1 377.5 L154.7 379.8 L154.3 382.2 L153.9 384.5 L153.5 386.8 L153.1 389.1 L152.6 391.4 L152.1 393.7 L151.6 396.0 L151.1 398.3 L150.5 400.5 L150.0 402.8 L149.4 405.1 L148.8 407.3 L148.4 409.6 L148.1 412.0 L147.8 414.3 L147.5 416.6 L147.3 419.0 L147.1 421.3 L146.9 423.6 L146.7 426.0 L146.6 428.3 L146.4 430.7 L146.3 433.0 L146.1 435.4 L146.0 437.7 L145.8 440.1 L145.7 442.4 L145.5 444.8 L145.1 447.1 L144.6 449.4 L144.1 451.6 L143.7 453.9 L143.2 456.2 L142.5 458.4 L141.8 460.6 L140.8 462.8 L139.9 464.9 L138.9 467.1 L137.7 469.1 L136.4 471.1 L135.1 473.0 L133.6 474.7 L131.6 475.8 L129.6 476.8 L127.6 477.9 L125.4 478.7 L123.2 479.5 L121.0 480.2 L110.0 470.0 L110.0 140.0 L282.0 140.0 Z" fill="url(#gIn4)"/>
<path d="M312.0 105.7 L312.1 108.0 L312.2 110.3 L312.2 112.7 L312.2 115.1 L312.2 117.4 L312.1 119.7 L310.9 121.2 L309.6 122.6 L308.4 124.1 L308.4 126.4 L308.3 128.8 L308.3 131.1 L308.2 133.5 L308.1 135.8 L308.5 138.1 L308.8 140.4 L309.2 142.7 L309.5 145.0 L309.4 147.3 L309.3 149.7 L309.1 152.0 L308.8 154.3 L307.7 156.2 L306.5 158.1 L305.3 160.0 L304.2 161.8 L302.7 163.6 L301.4 165.5 L300.1 167.5 L298.9 169.4 L297.7 171.4 L296.8 173.6 L296.0 175.8 L294.9 177.9 L294.0 179.9 L293.2 182.1 L292.9 184.4 L292.5 186.8 L292.2 189.1 L291.9 191.4 L291.7 193.8 L291.4 196.1 L291.1 198.4 L290.9 200.8 L290.6 203.1 L290.2 205.4 L289.8 207.7 L289.5 210.1 L289.1 212.4 L288.6 214.7 L287.9 216.9 L286.9 219.0 L285.8 221.0 L284.3 222.8 L282.9 224.6 L281.3 226.3 L279.3 227.2 L277.2 228.1 L275.2 229.0 L273.2 229.9 L271.2 230.8 L269.0 231.6 L266.8 232.1 L264.5 232.7 L262.3 233.2 L260.0 233.7 L257.8 234.3 L255.5 234.8 L253.3 235.3 L251.0 235.8 L248.7 236.4 L246.4 236.9 L244.1 237.3 L241.8 237.7 L239.5 238.0 L237.2 238.5 L234.9 239.0 L232.6 239.5 L230.3 240.2 L228.2 241.2 L226.1 242.2 L224.0 243.2 L221.8 244.2 L219.7 245.2 L217.6 246.3 L215.5 247.4 L213.5 248.6 L211.5 249.8 L209.5 251.1 L207.5 252.3 L205.6 253.6 L203.7 255.0 L201.9 256.4 L200.0 257.9 L198.3 259.4 L196.6 261.0 L194.9 262.7 L193.5 264.4 L192.1 266.3 L190.7 268.1 L189.3 269.9 L187.9 271.7 L186.5 273.6 L185.1 275.5 L183.7 277.3 L182.4 279.3 L181.1 281.2 L179.8 283.1 L178.7 285.1 L177.3 287.0 L175.8 288.7 L174.2 290.4 L172.6 292.2 L171.1 293.9 L169.7 295.7 L168.2 297.6 L166.9 299.5 L165.7 301.4 L164.6 303.5 L163.5 305.6 L162.4 307.7 L161.4 309.8 L160.4 311.9 L159.5 314.0 L158.4 315.8 L157.3 317.6 L156.5 319.7 L155.7 321.9 L155.8 324.2 L155.9 326.5 L156.1 328.8 L156.5 331.0 L156.8 333.2 L156.9 335.5 L156.7 337.8 L156.6 340.1 L156.4 342.5 L156.2 344.8 L156.0 347.1 L155.7 349.5 L155.6 351.8 L155.4 354.1 L155.2 356.5 L155.0 358.8 L154.8 361.2 L154.6 363.5 L154.4 365.8 L154.2 368.2 L154.0 370.5 L153.8 372.9 L153.4 375.2 L152.9 377.5 L152.5 379.8 L152.1 382.1 L151.6 384.4 L151.0 386.7 L150.4 388.9 L149.8 391.2 L149.2 393.5 L148.5 395.7 L147.8 397.9 L147.1 400.2 L146.5 402.4 L146.0 404.7 L145.7 407.0 L145.3 409.4 L145.2 411.7 L145.1 414.0 L144.9 416.4 L144.8 418.7 L144.7 421.1 L144.6 423.4 L144.5 425.7 L144.4 428.1 L144.3 430.4 L144.1 432.8 L144.0 435.1 L143.9 437.5 L143.8 439.8 L143.4 442.2 L143.1 444.5 L142.7 446.8 L142.4 449.1 L142.0 451.4 L141.5 453.6 L140.9 455.9 L140.0 458.0 L139.1 460.2 L138.2 462.4 L137.0 464.4 L135.7 466.4 L134.4 468.3 L133.0 470.1 L131.1 471.4 L129.3 472.7 L127.5 474.0 L125.4 474.9 L123.2 475.8 L121.0 476.6 L110.0 470.0 L110.0 140.0 L282.0 140.0 Z" fill="url(#gIn3)"/>
<path d="M311.8 105.9 L311.9 108.3 L312.0 110.6 L312.0 113.0 L311.9 115.3 L311.9 117.7 L311.8 120.0 L310.4 121.3 L309.0 122.6 L307.5 123.9 L307.4 126.2 L307.4 128.5 L307.4 130.9 L307.3 133.2 L307.3 135.6 L307.7 137.9 L308.1 140.1 L308.6 142.4 L309.0 144.7 L308.9 147.0 L308.8 149.4 L308.6 151.7 L308.5 154.0 L307.2 155.8 L305.9 157.6 L304.5 159.4 L303.2 161.2 L301.7 162.9 L300.3 164.8 L299.0 166.7 L297.7 168.6 L296.5 170.6 L295.7 172.8 L294.8 175.0 L293.8 177.1 L293.0 179.2 L292.3 181.4 L292.0 183.7 L291.6 186.1 L291.3 188.4 L291.1 190.7 L290.8 193.1 L290.6 195.4 L290.3 197.8 L290.1 200.1 L289.9 202.4 L289.5 204.8 L289.1 207.1 L288.7 209.4 L288.3 211.7 L287.7 214.0 L287.0 216.2 L286.0 218.3 L284.8 220.3 L283.3 222.0 L281.8 223.8 L280.1 225.4 L278.1 226.1 L276.0 226.9 L273.9 227.7 L271.8 228.4 L269.7 229.2 L267.5 229.8 L265.3 230.3 L263.0 230.8 L260.7 231.2 L258.4 231.7 L256.2 232.2 L253.9 232.6 L251.6 233.1 L249.3 233.5 L247.0 234.0 L244.7 234.4 L242.4 234.8 L240.1 235.2 L237.8 235.5 L235.5 235.9 L233.2 236.5 L230.9 237.0 L228.6 237.6 L226.5 238.6 L224.4 239.6 L222.3 240.7 L220.1 241.7 L218.0 242.7 L215.9 243.8 L213.8 244.9 L211.9 246.1 L209.9 247.4 L207.9 248.7 L205.9 249.9 L204.0 251.2 L202.1 252.6 L200.3 254.2 L198.5 255.7 L196.8 257.2 L195.2 258.9 L193.5 260.6 L192.2 262.4 L190.9 264.3 L189.6 266.2 L188.3 268.1 L186.9 269.9 L185.6 271.9 L184.3 273.8 L182.9 275.7 L181.7 277.6 L180.4 279.6 L179.2 281.6 L178.1 283.6 L176.7 285.5 L175.1 287.2 L173.5 288.8 L171.9 290.5 L170.3 292.2 L168.8 294.0 L167.3 295.8 L165.9 297.6 L164.6 299.5 L163.5 301.6 L162.4 303.7 L161.3 305.7 L160.2 307.8 L159.2 309.9 L158.2 312.0 L156.9 313.7 L155.6 315.4 L154.6 317.4 L153.8 319.6 L153.9 321.9 L154.2 324.2 L154.4 326.5 L154.9 328.7 L155.4 330.8 L155.6 333.1 L155.5 335.4 L155.4 337.8 L155.3 340.1 L155.1 342.4 L154.9 344.8 L154.8 347.1 L154.6 349.5 L154.5 351.8 L154.3 354.1 L154.2 356.5 L154.0 358.8 L153.8 361.2 L153.6 363.5 L153.4 365.8 L153.3 368.2 L153.1 370.5 L152.7 372.8 L152.2 375.2 L151.8 377.5 L151.3 379.8 L150.8 382.1 L150.2 384.3 L149.6 386.6 L148.9 388.8 L148.2 391.1 L147.5 393.3 L146.7 395.5 L146.0 397.7 L145.3 399.9 L144.8 402.2 L144.5 404.5 L144.1 406.9 L144.0 409.2 L143.9 411.6 L143.9 413.9 L143.8 416.2 L143.7 418.6 L143.6 420.9 L143.5 423.3 L143.4 425.6 L143.3 428.0 L143.2 430.3 L143.1 432.7 L143.0 435.0 L142.9 437.4 L142.6 439.7 L142.3 442.0 L142.0 444.3 L141.7 446.7 L141.4 449.0 L141.0 451.2 L140.5 453.5 L139.6 455.7 L138.7 457.9 L137.8 460.0 L136.6 462.1 L135.4 464.1 L134.1 466.0 L132.6 467.8 L130.9 469.2 L129.2 470.7 L127.4 472.1 L125.3 473.0 L123.2 473.9 L121.0 474.8 L110.0 470.0 L110.0 140.0 L282.0 140.0 Z" fill="url(#gIn2)"/>
<path d="M311.4 106.4 L311.5 108.8 L311.5 111.1 L311.5 113.5 L311.5 115.8 L311.5 118.2 L311.4 120.5 L309.6 121.5 L307.7 122.5 L305.9 123.4 L305.8 125.7 L305.8 128.1 L305.8 130.4 L305.8 132.8 L305.7 135.2 L306.3 137.4 L306.9 139.6 L307.5 141.9 L308.0 144.1 L308.0 146.5 L308.0 148.8 L307.9 151.2 L307.8 153.5 L306.2 155.2 L304.7 156.8 L303.1 158.4 L301.6 160.1 L299.9 161.7 L298.4 163.4 L297.0 165.3 L295.5 167.2 L294.3 169.1 L293.5 171.3 L292.8 173.6 L291.9 175.7 L291.2 177.9 L290.7 180.2 L290.4 182.5 L290.0 184.8 L289.7 187.2 L289.5 189.5 L289.3 191.9 L289.1 194.2 L288.9 196.6 L288.7 198.9 L288.5 201.2 L288.1 203.6 L287.7 205.9 L287.2 208.2 L286.8 210.5 L286.2 212.7 L285.3 214.9 L284.4 217.1 L283.2 219.0 L281.5 220.6 L279.8 222.3 L278.1 223.8 L275.9 224.3 L273.7 224.8 L271.5 225.3 L269.3 225.8 L267.1 226.3 L264.8 226.8 L262.5 227.1 L260.2 227.4 L257.9 227.7 L255.6 228.1 L253.3 228.4 L251.0 228.7 L248.6 229.0 L246.3 229.3 L244.0 229.7 L241.7 230.0 L239.4 230.4 L237.0 230.7 L234.7 230.9 L232.4 231.3 L230.1 231.9 L227.8 232.5 L225.5 233.0 L223.4 234.1 L221.3 235.1 L219.2 236.1 L217.1 237.2 L215.0 238.2 L212.9 239.3 L210.8 240.4 L208.9 241.7 L206.9 243.0 L205.0 244.3 L203.0 245.7 L201.1 247.0 L199.3 248.5 L197.6 250.1 L195.8 251.6 L194.2 253.3 L192.6 255.0 L191.1 256.8 L189.9 258.8 L188.8 260.8 L187.6 262.8 L186.4 264.8 L185.2 266.7 L183.9 268.7 L182.7 270.7 L181.5 272.7 L180.3 274.7 L179.2 276.8 L178.1 278.8 L177.1 280.9 L175.7 282.8 L174.0 284.3 L172.3 285.9 L170.6 287.5 L168.9 289.1 L167.3 290.9 L165.7 292.6 L164.2 294.4 L162.8 296.2 L161.6 298.2 L160.4 300.2 L159.2 302.2 L158.0 304.3 L156.9 306.3 L155.8 308.3 L154.2 309.9 L152.6 311.4 L151.4 313.3 L150.4 315.4 L150.6 317.7 L151.0 320.0 L151.3 322.3 L152.1 324.4 L152.9 326.6 L153.2 328.8 L153.2 331.2 L153.3 333.5 L153.3 335.8 L153.2 338.2 L153.1 340.5 L153.0 342.9 L152.9 345.2 L152.8 347.6 L152.8 349.9 L152.6 352.3 L152.5 354.6 L152.4 357.0 L152.2 359.3 L152.1 361.6 L152.0 364.0 L151.9 366.3 L151.4 368.6 L150.9 371.0 L150.5 373.3 L150.0 375.6 L149.5 377.9 L148.7 380.1 L148.0 382.3 L147.3 384.5 L146.5 386.8 L145.7 388.9 L144.8 391.1 L144.0 393.3 L143.1 395.5 L142.7 397.8 L142.3 400.1 L142.0 402.4 L141.9 404.8 L141.9 407.1 L141.9 409.5 L141.9 411.8 L141.9 414.1 L141.9 416.5 L141.8 418.9 L141.7 421.2 L141.6 423.6 L141.6 425.9 L141.5 428.3 L141.4 430.6 L141.3 433.0 L141.1 435.3 L140.9 437.6 L140.7 440.0 L140.5 442.3 L140.3 444.6 L140.1 446.9 L139.7 449.2 L138.8 451.4 L138.0 453.6 L137.1 455.8 L136.0 457.9 L134.8 459.9 L133.5 461.8 L132.1 463.7 L130.5 465.3 L128.9 467.0 L127.3 468.6 L125.3 469.7 L123.1 470.6 L121.0 471.6 L110.0 470.0 L110.0 140.0 L282.0 140.0 Z" fill="url(#gIn)"/>
<path d="M121.0 528.0 L135.0 529.0 L150.0 532.0 L160.0 539.0 L172.0 541.0 L178.0 552.0 L182.0 570.0 L110.0 570.0 L110.0 528.0 Z" fill="#c40000"/>
<ellipse cx="140" cy="553" rx="20" ry="10" fill="#dc0000"/>
<path d="M197.0 243.0 L208.0 235.0 L222.0 228.0 L223.5 228.5 L228.0 233.0 L244.5 234.5 L250.0 236.0 L245.0 241.0 L230.0 243.0 L222.0 242.0 L210.0 246.0 L202.5 246.5 L196.5 249.5 Z" fill="#a8ff58"/>
<path d="M222.0 226.0 L230.0 224.0 L245.0 222.5 L260.0 221.5 L276.0 220.0 L284.0 214.0 L283.0 222.0 L270.0 228.0 L262.5 230.0 L244.5 234.5 L228.0 233.0 L223.5 228.5 Z" fill="#40f0c8"/>
</g></g></g>
<pattern id="pS" width="3" height="4" patternUnits="userSpaceOnUse"><rect width="3" height="4" fill="#000"/><rect x="1" y="0" width="1.3" height="3" fill="#f0e000"/></pattern>
<g clip-path="url(#sea)"><path d="M304.0 121.0 L304.0 135.0 L307.0 143.0 L307.0 153.0 L302.0 157.0 L297.0 161.0 L292.0 167.0 L289.5 175.0 L288.0 185.0 L287.0 200.0 L285.0 210.0 L282.0 217.0 L290.0 217.0 L293.0 205.0 L295.0 192.0 L297.0 180.0 L301.0 170.0 L306.0 163.0 L310.0 157.0 L311.0 145.0 L310.0 132.0 L309.0 121.0 Z" fill="url(#pS)"/>
<rect x="306" y="158" width="3" height="2" fill="#ffe000"/>
<rect x="305" y="161" width="3" height="2" fill="#ffe000"/>
<rect x="303" y="167" width="2" height="3" fill="#f0f000"/>
<rect x="301" y="172" width="3" height="3" fill="#ffd000"/>
<rect x="298" y="180" width="2" height="4" fill="#ffe000"/>
<rect x="296" y="188" width="2" height="3" fill="#e0ff20"/>
<rect x="294" y="196" width="2" height="4" fill="#ffe000"/>
<rect x="292" y="203" width="2" height="3" fill="#c0ff40"/>
<rect x="308" y="148" width="2" height="3" fill="#ffe000"/>
<rect x="308" y="138" width="2" height="2" fill="#e0ff20"/>
<rect x="307" y="128" width="2" height="3" fill="#ffe000"/>
<rect x="305" y="124" width="2" height="2" fill="#c0ff40"/>
<rect x="299" y="165" width="1" height="1" fill="#40ffd0"/>
<rect x="297" y="169" width="1" height="1" fill="#40ffd0"/>
<rect x="295" y="174" width="1" height="2" fill="#80ff80"/>
<rect x="292" y="183" width="1" height="2" fill="#40ffd0"/>
<rect x="290" y="192" width="1" height="3" fill="#60ffb0"/>
<rect x="289" y="200" width="1" height="3" fill="#40ffd0"/>
<rect x="287" y="208" width="1" height="2" fill="#80ff80"/>
<rect x="300" y="177" width="2" height="2" fill="#ffe000"/>
<rect x="304" y="150" width="1" height="2" fill="#40ffd0"/>
<rect x="305" y="140" width="1" height="2" fill="#80ff80"/>
</g>
<g clip-path="url(#sea)">
<rect x="286" y="101" width="8" height="9" fill="#ffe000"/>
<path d="M289 96 L297 92 L300 100 L294 106 L288 104 Z" fill="#ffa000"/>
</g>
<g stroke="#b4b4b4" stroke-width="1" stroke-dasharray="2 4.7" shape-rendering="crispEdges">
<line x1="194.5" y1="59" x2="194.5" y2="563"/>
<line x1="265.5" y1="59" x2="265.5" y2="563"/>
<line x1="336.5" y1="59" x2="336.5" y2="563"/>
<line x1="407.5" y1="59" x2="407.5" y2="563"/>
<line x1="477.5" y1="59" x2="477.5" y2="563"/>
<line x1="548.5" y1="59" x2="548.5" y2="563"/>
<line x1="619.5" y1="59" x2="619.5" y2="563"/>
<line x1="130" y1="106.5" x2="674" y2="106.5"/>
<line x1="130" y1="191.5" x2="674" y2="191.5"/>
<line x1="130" y1="276.5" x2="674" y2="276.5"/>
<line x1="130" y1="360.5" x2="674" y2="360.5"/>
<line x1="130" y1="445.5" x2="674" y2="445.5"/>
<line x1="130" y1="530.5" x2="674" y2="530.5"/>
</g>
<g clip-path="url(#plot)" fill="none" stroke="#000" stroke-width="1">
<polyline points="433.5,56.0 429.0,67.5 420.0,76.5 421.5,84.0 423.0,91.5 417.0,97.5 406.5,102.0 390.0,105.8 375.0,108.0 360.0,111.0 354.0,117.0 349.5,129.0 345.0,137.0 338.0,150.0 328.0,165.0 320.0,180.0 317.5,185.0 314.1,191.0 306.8,210.0 305.3,220.0 302.0,230.0 298.0,240.0 291.0,249.0 285.0,254.5 275.0,260.3 268.5,266.8 263.3,273.3 259.4,279.7 256.0,286.0 248.0,292.0 238.6,296.5 228.9,307.2 217.2,315.0 209.4,322.7 205.6,334.4 199.7,349.9 193.9,359.6 186.1,373.2 182.3,380.0 179.1,389.7 172.6,405.9 169.3,418.9 164.5,431.8 161.2,444.8 158.0,457.7 154.8,470.7 151.5,480.0 146.0,487.0 138.0,496.0 132.0,509.0 129.0,521.0 135.0,528.0 147.0,531.0 158.3,537.5 172.0,538.9 173.4,532.0 167.9,521.0 166.5,510.0 172.0,493.5 180.3,477.0 191.3,460.5 205.0,452.3 227.0,446.8 246.3,447.3 265.5,452.3 282.0,459.1 295.8,468.8 305.0,482.0 300.0,486.0 295.8,482.5 282.0,475.6 265.5,472.9 246.3,474.8 232.5,481.1 225.6,490.8 222.9,504.5 221.0,515.5 216.0,523.8 207.8,521.0 200.9,526.5 195.4,540.3 188.5,554.0 184.4,566.0"/>
<polyline points="415.5,56.0 411.0,70.5 405.0,82.5 394.5,90.0 378.0,94.5 360.0,97.5 352.5,102.0 348.0,109.5 344.0,122.0 336.5,135.0 325.3,150.0 318.0,165.0 313.0,180.0 310.8,185.0 306.3,191.0 302.5,210.0 302.3,220.0 299.0,228.0 293.0,238.3 284.0,246.1 272.4,253.8 263.3,259.0 255.5,264.2 247.8,269.4 240.0,275.2 232.7,280.0 221.1,287.8 211.4,295.5 201.7,303.3 195.8,315.0 192.0,330.5 186.1,346.0 180.3,361.6 176.4,373.2 172.6,386.0 169.3,396.2 162.9,418.9 159.6,431.8 156.4,448.0 152.3,464.2 149.9,480.0 140.0,495.0 130.0,505.0 121.0,512.0"/>
<polyline points="403.5,56.0 402.0,69.0 397.5,76.5 390.0,82.5 381.0,85.5 375.0,84.0 367.5,81.0 360.0,79.5 352.5,81.0 342.0,88.5 333.0,99.0 330.0,106.5 329.8,109.4 324.6,126.2 318.1,140.4 316.6,150.0 313.0,165.0 307.0,180.0 304.0,185.0 300.3,191.0 298.5,210.0 297.8,220.0 294.0,228.0 285.0,240.9 276.2,247.4 265.9,252.5 256.8,256.4 249.0,259.0 240.0,262.9 225.0,271.0 211.4,280.0 201.7,289.7 190.0,301.4 182.3,318.8 178.4,338.3 172.5,357.7 168.5,377.0 164.5,390.0 159.6,404.3 154.8,425.3 151.5,444.8 148.3,461.0 145.0,480.0 138.0,492.0 121.0,500.0"/>
<polyline points="381.0,56.0 367.5,58.5 352.5,64.5 339.0,72.0 336.0,77.5 328.6,81.5 322.2,87.2 317.3,92.0 314.9,96.9 309.2,101.7 313.0,104.2 313.6,109.4 313.0,130.0 312.0,150.0 309.0,165.0 302.0,180.0 298.0,185.0 297.0,191.0 294.0,210.0 293.0,220.0 288.0,230.0 278.0,240.0 262.0,247.0 254.0,250.0 240.0,253.0 229.0,258.0 215.0,265.0 204.0,272.0 193.9,280.0 182.3,291.7 172.5,307.2 166.7,322.7 164.8,342.1 160.9,361.6 158.0,380.0 155.1,400.0 153.1,412.4 149.9,433.4 148.3,452.9 145.0,464.2 140.0,475.0 135.0,482.0 121.0,486.0"/>
<polyline points="312.4,105.1 312.5,107.4 312.7,109.8 312.7,112.1 312.7,114.5 312.6,116.8 312.6,119.2 311.8,121.0 311.0,122.8 310.2,124.6 310.2,126.9 310.1,129.3 310.0,131.6 310.0,134.0 309.9,136.3 310.0,138.6 310.2,140.9 310.4,143.2 310.5,145.6 310.4,147.9 310.2,150.3 309.9,152.6 309.6,154.9 308.7,156.9 307.8,159.0 306.9,161.0 306.0,163.1 304.7,165.0 303.5,167.0 302.4,169.0 301.2,171.0 300.1,173.1 299.2,175.3 298.3,177.4 297.1,179.4 295.9,181.4 295.0,183.5 294.6,185.8 294.3,188.1 293.9,190.4 293.6,192.8 293.3,195.1 293.0,197.4 292.7,199.8 292.4,202.1 292.1,204.4 291.7,206.8 291.4,209.1 291.1,211.4 290.8,213.7 290.4,216.0 289.8,218.3 288.8,220.4 287.6,222.5 286.3,224.4 285.1,226.3 283.5,228.0 281.7,229.2 279.8,230.4 277.9,231.6 276.0,232.8 274.1,234.0 272.1,235.0 269.9,235.7 267.6,236.4 265.4,237.1 263.2,237.8 261.0,238.5 258.8,239.2 256.5,239.8 254.3,240.5 252.0,241.1 249.8,241.7 247.5,242.3 245.2,242.7 242.9,243.1 240.6,243.6 238.3,244.1 236.0,244.6 233.7,245.2 231.6,246.2 229.5,247.2 227.3,248.2 225.2,249.2 223.1,250.2 221.0,251.3 218.9,252.4 216.9,253.5 214.8,254.7 212.8,255.9 210.7,257.0 208.7,258.3 206.8,259.6 204.9,261.0 203.0,262.4 201.2,263.8 199.4,265.3 197.7,266.8 196.1,268.5 194.5,270.2 193.0,271.9 191.4,273.5 189.8,275.3 188.3,277.1 186.9,278.9 185.4,280.7 183.9,282.5 182.5,284.3 181.0,286.1 179.8,288.1 178.5,290.0 177.0,291.8 175.6,293.7 174.1,295.5 172.7,297.3 171.3,299.2 169.9,301.1 168.8,303.1 167.7,305.2 166.7,307.3 165.8,309.4 164.8,311.6 163.8,313.7 162.9,315.9 162.2,318.0 161.5,320.1 160.7,322.1 160.1,324.2 159.5,326.5 159.5,328.8 159.5,331.1 159.5,333.5 159.6,335.7 159.6,338.0 159.5,340.2 159.2,342.6 158.9,344.9 158.7,347.2 158.3,349.5 158.0,351.9 157.7,354.2 157.5,356.5 157.2,358.8 157.0,361.2 156.7,363.5 156.4,365.8 156.2,368.2 155.9,370.5 155.6,372.9 155.4,375.2 155.1,377.5 154.7,379.8 154.3,382.2 153.9,384.5 153.5,386.8 153.1,389.1 152.6,391.4 152.1,393.7 151.6,396.0 151.1,398.3 150.5,400.5 150.0,402.8 149.4,405.1 148.8,407.3 148.4,409.6 148.1,412.0 147.8,414.3 147.5,416.6 147.3,419.0 147.1,421.3 146.9,423.6 146.7,426.0 146.6,428.3 146.4,430.7 146.3,433.0 146.1,435.4 146.0,437.7 145.8,440.1 145.7,442.4 145.5,444.8 145.1,447.1 144.6,449.4 144.1,451.6 143.7,453.9 143.2,456.2 142.5,458.4 141.8,460.6 140.8,462.8 139.9,464.9 138.9,467.1 137.7,469.1 136.4,471.1 135.1,473.0 133.6,474.7 131.6,475.8 129.6,476.8 127.6,477.9 125.4,478.7 123.2,479.5 121.0,480.2"/>
<polyline points="312.0,105.7 312.1,108.0 312.2,110.3 312.2,112.7 312.2,115.1 312.2,117.4 312.1,119.7 310.9,121.2 309.6,122.6 308.4,124.1 308.4,126.4 308.3,128.8 308.3,131.1 308.2,133.5 308.1,135.8 308.5,138.1 308.8,140.4 309.2,142.7 309.5,145.0 309.4,147.3 309.3,149.7 309.1,152.0 308.8,154.3 307.7,156.2 306.5,158.1 305.3,160.0 304.2,161.8 302.7,163.6 301.4,165.5 300.1,167.5 298.9,169.4 297.7,171.4 296.8,173.6 296.0,175.8 294.9,177.9 294.0,179.9 293.2,182.1 292.9,184.4 292.5,186.8 292.2,189.1 291.9,191.4 291.7,193.8 291.4,196.1 291.1,198.4 290.9,200.8 290.6,203.1 290.2,205.4 289.8,207.7 289.5,210.1 289.1,212.4 288.6,214.7 287.9,216.9 286.9,219.0 285.8,221.0 284.3,222.8 282.9,224.6 281.3,226.3 279.3,227.2 277.2,228.1 275.2,229.0 273.2,229.9 271.2,230.8 269.0,231.6 266.8,232.1 264.5,232.7 262.3,233.2 260.0,233.7 257.8,234.3 255.5,234.8 253.3,235.3 251.0,235.8 248.7,236.4 246.4,236.9 244.1,237.3 241.8,237.7 239.5,238.0 237.2,238.5 234.9,239.0 232.6,239.5 230.3,240.2 228.2,241.2 226.1,242.2 224.0,243.2 221.8,244.2 219.7,245.2 217.6,246.3 215.5,247.4 213.5,248.6 211.5,249.8 209.5,251.1 207.5,252.3 205.6,253.6 203.7,255.0 201.9,256.4 200.0,257.9 198.3,259.4 196.6,261.0 194.9,262.7 193.5,264.4 192.1,266.3 190.7,268.1 189.3,269.9 187.9,271.7 186.5,273.6 185.1,275.5 183.7,277.3 182.4,279.3 181.1,281.2 179.8,283.1 178.7,285.1 177.3,287.0 175.8,288.7 174.2,290.4 172.6,292.2 171.1,293.9 169.7,295.7 168.2,297.6 166.9,299.5 165.7,301.4 164.6,303.5 163.5,305.6 162.4,307.7 161.4,309.8 160.4,311.9 159.5,314.0 158.4,315.8 157.3,317.6 156.5,319.7 155.7,321.9 155.8,324.2 155.9,326.5 156.1,328.8 156.5,331.0 156.8,333.2 156.9,335.5 156.7,337.8 156.6,340.1 156.4,342.5 156.2,344.8 156.0,347.1 155.7,349.5 155.6,351.8 155.4,354.1 155.2,356.5 155.0,358.8 154.8,361.2 154.6,363.5 154.4,365.8 154.2,368.2 154.0,370.5 153.8,372.9 153.4,375.2 152.9,377.5 152.5,379.8 152.1,382.1 151.6,384.4 151.0,386.7 150.4,388.9 149.8,391.2 149.2,393.5 148.5,395.7 147.8,397.9 147.1,400.2 146.5,402.4 146.0,404.7 145.7,407.0 145.3,409.4 145.2,411.7 145.1,414.0 144.9,416.4 144.8,418.7 144.7,421.1 144.6,423.4 144.5,425.7 144.4,428.1 144.3,430.4 144.1,432.8 144.0,435.1 143.9,437.5 143.8,439.8 143.4,442.2 143.1,444.5 142.7,446.8 142.4,449.1 142.0,451.4 141.5,453.6 140.9,455.9 140.0,458.0 139.1,460.2 138.2,462.4 137.0,464.4 135.7,466.4 134.4,468.3 133.0,470.1 131.1,471.4 129.3,472.7 127.5,474.0 125.4,474.9 123.2,475.8 121.0,476.6"/>
<polyline points="311.8,105.9 311.9,108.3 312.0,110.6 312.0,113.0 311.9,115.3 311.9,117.7 311.8,120.0 310.4,121.3 309.0,122.6 307.5,123.9 307.4,126.2 307.4,128.5 307.4,130.9 307.3,133.2 307.3,135.6 307.7,137.9 308.1,140.1 308.6,142.4 309.0,144.7 308.9,147.0 308.8,149.4 308.6,151.7 308.5,154.0 307.2,155.8 305.9,157.6 304.5,159.4 303.2,161.2 301.7,162.9 300.3,164.8 299.0,166.7 297.7,168.6 296.5,170.6 295.7,172.8 294.8,175.0 293.8,177.1 293.0,179.2 292.3,181.4 292.0,183.7 291.6,186.1 291.3,188.4 291.1,190.7 290.8,193.1 290.6,195.4 290.3,197.8 290.1,200.1 289.9,202.4 289.5,204.8 289.1,207.1 288.7,209.4 288.3,211.7 287.7,214.0 287.0,216.2 286.0,218.3 284.8,220.3 283.3,222.0 281.8,223.8 280.1,225.4 278.1,226.1 276.0,226.9 273.9,227.7 271.8,228.4 269.7,229.2 267.5,229.8 265.3,230.3 263.0,230.8 260.7,231.2 258.4,231.7 256.2,232.2 253.9,232.6 251.6,233.1 249.3,233.5 247.0,234.0 244.7,234.4 242.4,234.8 240.1,235.2 237.8,235.5 235.5,235.9 233.2,236.5 230.9,237.0 228.6,237.6 226.5,238.6 224.4,239.6 222.3,240.7 220.1,241.7 218.0,242.7 215.9,243.8 213.8,244.9 211.9,246.1 209.9,247.4 207.9,248.7 205.9,249.9 204.0,251.2 202.1,252.6 200.3,254.2 198.5,255.7 196.8,257.2 195.2,258.9 193.5,260.6 192.2,262.4 190.9,264.3 189.6,266.2 188.3,268.1 186.9,269.9 185.6,271.9 184.3,273.8 182.9,275.7 181.7,277.6 180.4,279.6 179.2,281.6 178.1,283.6 176.7,285.5 175.1,287.2 173.5,288.8 171.9,290.5 170.3,292.2 168.8,294.0 167.3,295.8 165.9,297.6 164.6,299.5 163.5,301.6 162.4,303.7 161.3,305.7 160.2,307.8 159.2,309.9 158.2,312.0 156.9,313.7 155.6,315.4 154.6,317.4 153.8,319.6 153.9,321.9 154.2,324.2 154.4,326.5 154.9,328.7 155.4,330.8 155.6,333.1 155.5,335.4 155.4,337.8 155.3,340.1 155.1,342.4 154.9,344.8 154.8,347.1 154.6,349.5 154.5,351.8 154.3,354.1 154.2,356.5 154.0,358.8 153.8,361.2 153.6,363.5 153.4,365.8 153.3,368.2 153.1,370.5 152.7,372.8 152.2,375.2 151.8,377.5 151.3,379.8 150.8,382.1 150.2,384.3 149.6,386.6 148.9,388.8 148.2,391.1 147.5,393.3 146.7,395.5 146.0,397.7 145.3,399.9 144.8,402.2 144.5,404.5 144.1,406.9 144.0,409.2 143.9,411.6 143.9,413.9 143.8,416.2 143.7,418.6 143.6,420.9 143.5,423.3 143.4,425.6 143.3,428.0 143.2,430.3 143.1,432.7 143.0,435.0 142.9,437.4 142.6,439.7 142.3,442.0 142.0,444.3 141.7,446.7 141.4,449.0 141.0,451.2 140.5,453.5 139.6,455.7 138.7,457.9 137.8,460.0 136.6,462.1 135.4,464.1 134.1,466.0 132.6,467.8 130.9,469.2 129.2,470.7 127.4,472.1 125.3,473.0 123.2,473.9 121.0,474.8"/>
<polyline points="656.0,56.0 651.0,64.0 650.4,72.0 654.0,77.0 663.0,81.5 676.0,82.8"/>
<polyline points="609.8,97.0 628.3,97.0 637.5,101.2 648.6,104.3 663.3,107.7 676.0,108.6"/>
<polyline points="585.8,97.5 589.5,101.2 596.9,105.8 606.1,113.2 612.6,120.6 611.7,124.3 606.1,129.8 599.7,137.2 597.8,140.9 604.3,146.4 615.4,152.0 633.8,155.6 648.6,155.6 663.3,152.9 676.0,148.5"/>
<polyline points="676.0,237.0 634.5,228.4 613.8,228.4 593.0,238.7 583.4,250.0 571.7,265.5 561.4,278.5 553.6,291.4 545.9,296.6 531.6,301.7 530.3,312.1 538.1,319.9 556.0,325.8"/>
<polyline points="569.7,325.8 587.3,321.2 605.4,310.8 618.3,299.2 631.3,283.6 637.7,279.8 641.1,283.6 639.0,296.6 631.3,314.7 619.6,335.4 605.4,353.5 592.4,366.4 579.5,384.0"/>
<polyline points="587.3,389.7 605.4,379.4 618.3,361.3 628.7,340.6 636.4,322.4 646.8,316.0 654.5,314.7 664.9,301.7 676.0,286.2"/>
<polyline points="562.4,486.0 564.0,499.2 573.6,508.8 592.8,516.8 618.4,526.4 644.0,536.0 672.8,545.6 676.0,547.0"/>
<polyline points="572.0,484.8 586.4,496.0 605.6,508.8 624.8,516.8 650.4,528.0 676.0,539.2"/>
<polyline points="445.6,564.0 442.4,545.6 436.0,526.4 429.6,510.4 431.2,494.4 437.6,488.0 445.6,491.2 452.0,500.8 455.2,516.8 460.0,532.8 471.2,545.6 476.0,553.6 474.4,564.0"/>
<polyline points="501.6,564.0 516.0,555.2 532.0,550.4"/>
<polyline points="557.0,550.4 596.0,553.6 644.0,558.4 676.0,561.6"/>
<polyline points="223.5,228.5 228.0,233.0 244.5,234.5 262.5,230.0 277.5,224.0"/>
<polyline points="196.5,249.5 202.5,246.5 210.0,246.0 222.0,242.0"/>
<polyline points="172.0,458.0 177.5,441.3 185.8,430.3 196.8,423.4 209.1,418.7 213.8,420.6 211.9,424.8 202.3,430.3 194.0,435.8 188.5,444.0 183.0,458.0"/>
</g>
<g clip-path="url(#plot)" fill="none" stroke="#000" stroke-width="3" stroke-linejoin="round" stroke-linecap="round">
<polyline points="349.0,55.0 336.0,65.3 324.6,73.4 317.3,77.5 304.4,83.1 298.7,87.2 292.2,94.5 285.0,102.5 281.0,108.0 284.0,113.0 289.0,112.5 295.0,116.0 300.5,113.5 300.5,123.0 301.5,134.0 299.5,143.0 296.0,152.0 290.7,154.0 283.0,155.5 285.0,161.4 289.4,165.2 288.8,169.0 287.5,174.0 287.2,186.0 284.6,196.0 283.3,209.0 280.7,217.0 275.5,221.0 267.8,222.0 260.0,222.7 245.0,223.8 230.0,224.7 219.5,226.5 210.5,228.7 203.0,231.0 196.0,233.5"/>
<polyline points="124.0,144.4 132.5,148.8 142.5,148.8 148.8,151.9 163.8,151.9 165.6,150.0 162.5,145.6 164.4,143.8 170.6,136.0 175.0,138.1 182.5,143.1 188.8,142.5 193.8,135.6 205.0,130.0 213.8,127.5 220.0,123.8 222.5,121.2 230.0,118.8 238.1,115.6 245.0,118.5 252.5,115.6 260.0,119.4 268.8,121.9 277.5,125.0 285.0,132.5 288.8,137.5 290.0,145.0 290.0,153.8"/>
<polyline points="305.0,143.0 307.5,151.7 306.2,155.5 301.0,158.8 297.2,161.4 294.0,165.2 292.0,168.5 291.4,174.3 290.7,180.0 290.0,195.0 288.0,205.0"/>
<polyline points="301.0,140.0 297.2,148.4 295.9,153.0 290.7,153.9"/>
<polyline points="284.1,55.0 283.3,62.1 282.5,72.6 279.3,77.5 279.3,90.4 281.7,96.9 289.0,96.9 296.3,92.0"/>
<polyline points="291.8,55.0 291.4,71.8 297.1,78.3 297.9,86.4 299.9,88.0"/>
<polyline points="315.7,77.5 309.2,71.8 312.5,64.5 320.5,61.3 324.6,66.1 328.6,60.5 327.0,55.0"/>
<polyline points="215.3,227.0 215.0,220.5 201.5,217.5 200.0,207.0 204.5,201.0 210.5,197.2 207.5,194.2 196.2,190.5 189.5,189.0 183.5,193.5 177.5,201.0 176.0,205.5 179.0,211.5 185.0,217.5 185.0,223.5 180.5,229.5 173.0,234.0 166.0,237.0"/>
<polyline points="191.7,233.2 219.5,226.5 197.0,237.7 194.0,240.0 191.7,233.2"/>
<polyline points="178.9,241.5 187.0,240.7 191.8,244.8 188.6,249.6 180.5,246.4 178.9,241.5"/>
<polyline points="175.0,252.9 167.7,257.3 163.3,260.2 160.4,264.6 158.9,279.1 160.4,281.3 167.7,274.7 179.3,266.0 183.7,258.7"/>
<polyline points="166.0,237.0 167.5,239.9 165.1,249.6 169.1,252.9 175.6,250.4 182.1,246.4"/>
<polyline points="172.0,279.1 164.8,283.5 158.9,287.8 155.3,293.7 153.1,299.5 150.9,302.4 145.8,303.9 142.9,308.2 142.2,315.5 144.4,321.3 146.6,330.0 143.5,334.5 144.6,341.3 146.9,352.6 146.9,366.2 143.5,375.2 137.8,386.6 135.6,395.6 134.4,404.7 133.3,411.4 135.6,425.0 137.8,436.3 134.4,445.4 128.8,454.4 124.0,461.5"/>
<polyline points="124.0,403.5 135.0,403.5"/>
</g>
<rect x="586" y="88" width="24" height="12" fill="#fff"/>
<text x="598.0" y="98" font-size="11" text-anchor="middle" fill="#000">18.5</text>
<rect x="236" y="284" width="24" height="12" fill="#fff"/>
<text x="248.0" y="294" font-size="11" text-anchor="middle" fill="#000">18.5</text>
<rect x="162" y="458" width="24" height="12" fill="#fff"/>
<text x="174.0" y="468" font-size="11" text-anchor="middle" fill="#000">18.5</text>
<rect x="296" y="486" width="24" height="12" fill="#fff"/>
<text x="308.0" y="496" font-size="11" text-anchor="middle" fill="#000">18.5</text>
<rect x="124" y="526" width="23" height="12" fill="#fff"/>
<text x="135.5" y="536" font-size="11" text-anchor="middle" fill="#000">18.5</text>
<rect x="533" y="542" width="24" height="11" fill="#fff"/>
<text x="545.0" y="551" font-size="11" text-anchor="middle" fill="#000">18.5</text>
<rect x="556" y="320" width="14" height="12" fill="#fff"/>
<text x="563.0" y="330" font-size="11" text-anchor="middle" fill="#000">19</text>
<rect x="573" y="384" width="14" height="12" fill="#fff"/>
<text x="580.0" y="394" font-size="11" text-anchor="middle" fill="#000">19</text>
<rect x="559" y="474" width="14" height="12" fill="#fff"/>
<text x="566.0" y="484" font-size="11" text-anchor="middle" fill="#000">19</text>
<rect x="124" y="469" width="18" height="11" fill="#fff"/>
<text x="133.0" y="478" font-size="11" text-anchor="middle" fill="#000">6.5</text>
<rect x="124" y="480" width="11" height="10" fill="#fff"/>
<text x="129.5" y="488" font-size="11" text-anchor="middle" fill="#000">7</text>
<path d="M223 237.5 H244 V246.5 H255 V258 H241 V255 H229 V249 H223 Z" fill="#fff"/>
<text x="223.5" y="248" font-size="11">1</text><text x="229.5" y="254.5" font-size="11">16</text><text x="242" y="257" font-size="11">17</text>
<path d="M230 238.5h3M235 238.5h3M240 238.5h3" stroke="#000" stroke-width="1"/>
<rect x="124" y="55" width="551" height="509" fill="none" stroke="#000" stroke-width="2"/>
<g stroke="#000" stroke-width="1" shape-rendering="crispEdges">
<line x1="194.5" y1="565" x2="194.5" y2="568"/>
<line x1="265.5" y1="565" x2="265.5" y2="568"/>
<line x1="336.5" y1="565" x2="336.5" y2="568"/>
<line x1="407.5" y1="565" x2="407.5" y2="568"/>
<line x1="477.5" y1="565" x2="477.5" y2="568"/>
<line x1="548.5" y1="565" x2="548.5" y2="568"/>
<line x1="619.5" y1="565" x2="619.5" y2="568"/>
<line x1="124" y1="565" x2="124" y2="568"/>
<line x1="120" y1="106.5" x2="123" y2="106.5"/>
<line x1="120" y1="191.5" x2="123" y2="191.5"/>
<line x1="120" y1="276.5" x2="123" y2="276.5"/>
<line x1="120" y1="360.5" x2="123" y2="360.5"/>
<line x1="120" y1="445.5" x2="123" y2="445.5"/>
<line x1="120" y1="530.5" x2="123" y2="530.5"/>
</g>
<g shape-rendering="crispEdges"><rect x="708" y="61.00" width="16" height="6.50" fill="#720000"/><rect x="708" y="66.90" width="16" height="6.50" fill="#7b0000"/><rect x="708" y="72.81" width="16" height="6.50" fill="#840000"/><rect x="708" y="78.71" width="16" height="6.50" fill="#8d0000"/><rect x="708" y="84.62" width="16" height="6.50" fill="#960000"/><rect x="708" y="90.52" width="16" height="6.50" fill="#a20000"/><rect x="708" y="96.43" width="16" height="6.50" fill="#ae0000"/><rect x="708" y="102.33" width="16" height="6.50" fill="#bb0000"/><rect x="708" y="108.24" width="16" height="6.50" fill="#c80000"/><rect x="708" y="114.14" width="16" height="6.50" fill="#d70000"/><rect x="708" y="120.05" width="16" height="6.50" fill="#e90000"/><rect x="708" y="125.95" width="16" height="6.50" fill="#fc0000"/><rect x="708" y="131.86" width="16" height="6.50" fill="#ff0b00"/><rect x="708" y="137.76" width="16" height="6.50" fill="#ff1800"/><rect x="708" y="143.67" width="16" height="6.50" fill="#ff2500"/><rect x="708" y="149.57" width="16" height="6.50" fill="#ff3300"/><rect x="708" y="155.48" width="16" height="6.50" fill="#ff4000"/><rect x="708" y="161.38" width="16" height="6.50" fill="#ff4d00"/><rect x="708" y="167.29" width="16" height="6.50" fill="#ff5a00"/><rect x="708" y="173.19" width="16" height="6.50" fill="#ff6300"/><rect x="708" y="179.10" width="16" height="6.50" fill="#ff6c00"/><rect x="708" y="185.00" width="16" height="6.50" fill="#ff7500"/><rect x="708" y="190.90" width="16" height="6.50" fill="#ff7e00"/><rect x="708" y="196.81" width="16" height="6.50" fill="#ff8700"/><rect x="708" y="202.71" width="16" height="6.50" fill="#ff9000"/><rect x="708" y="208.62" width="16" height="6.50" fill="#ff9c00"/><rect x="708" y="214.52" width="16" height="6.50" fill="#ffa800"/><rect x="708" y="220.43" width="16" height="6.50" fill="#ffb500"/><rect x="708" y="226.33" width="16" height="6.50" fill="#ffc100"/><rect x="708" y="232.24" width="16" height="6.50" fill="#ffce00"/><rect x="708" y="238.14" width="16" height="6.50" fill="#ffdc00"/><rect x="708" y="244.05" width="16" height="6.50" fill="#fff300"/><rect x="708" y="249.95" width="16" height="6.50" fill="#f8ff06"/><rect x="708" y="255.86" width="16" height="6.50" fill="#e9ff13"/><rect x="708" y="261.76" width="16" height="6.50" fill="#daff20"/><rect x="708" y="267.67" width="16" height="6.50" fill="#cbff2d"/><rect x="708" y="273.57" width="16" height="6.50" fill="#c0ff39"/><rect x="708" y="279.48" width="16" height="6.50" fill="#b6ff46"/><rect x="708" y="285.38" width="16" height="6.50" fill="#acff52"/><rect x="708" y="291.29" width="16" height="6.50" fill="#a1ff5e"/><rect x="708" y="297.19" width="16" height="6.50" fill="#95ff6b"/><rect x="708" y="303.10" width="16" height="6.50" fill="#89ff77"/><rect x="708" y="309.00" width="16" height="6.50" fill="#7dff83"/><rect x="708" y="314.90" width="16" height="6.50" fill="#70ff90"/><rect x="708" y="320.81" width="16" height="6.50" fill="#64ff9c"/><rect x="708" y="326.71" width="16" height="6.50" fill="#57ffa9"/><rect x="708" y="332.62" width="16" height="6.50" fill="#4bffb5"/><rect x="708" y="338.52" width="16" height="6.50" fill="#3effc2"/><rect x="708" y="344.43" width="16" height="6.50" fill="#31ffcf"/><rect x="708" y="350.33" width="16" height="6.50" fill="#25ffda"/><rect x="708" y="356.24" width="16" height="6.50" fill="#1affe6"/><rect x="708" y="362.14" width="16" height="6.50" fill="#0efff1"/><rect x="708" y="368.05" width="16" height="6.50" fill="#02fffd"/><rect x="708" y="373.95" width="16" height="6.50" fill="#00f4ff"/><rect x="708" y="379.86" width="16" height="6.50" fill="#00e7ff"/><rect x="708" y="385.76" width="16" height="6.50" fill="#00daff"/><rect x="708" y="391.67" width="16" height="6.50" fill="#00cdff"/><rect x="708" y="397.57" width="16" height="6.50" fill="#00c0ff"/><rect x="708" y="403.48" width="16" height="6.50" fill="#00b2ff"/><rect x="708" y="409.38" width="16" height="6.50" fill="#00a4ff"/><rect x="708" y="415.29" width="16" height="6.50" fill="#0096ff"/><rect x="708" y="421.19" width="16" height="6.50" fill="#008aff"/><rect x="708" y="427.10" width="16" height="6.50" fill="#007fff"/><rect x="708" y="433.00" width="16" height="6.50" fill="#0073ff"/><rect x="708" y="438.90" width="16" height="6.50" fill="#0068ff"/><rect x="708" y="444.81" width="16" height="6.50" fill="#005cff"/><rect x="708" y="450.71" width="16" height="6.50" fill="#0051ff"/><rect x="708" y="456.62" width="16" height="6.50" fill="#0045ff"/><rect x="708" y="462.52" width="16" height="6.50" fill="#0038ff"/><rect x="708" y="468.43" width="16" height="6.50" fill="#002aff"/><rect x="708" y="474.33" width="16" height="6.50" fill="#001cff"/><rect x="708" y="480.24" width="16" height="6.50" fill="#000eff"/><rect x="708" y="486.14" width="16" height="6.50" fill="#0000ff"/><rect x="708" y="492.05" width="16" height="6.50" fill="#0000f0"/><rect x="708" y="497.95" width="16" height="6.50" fill="#0000e1"/><rect x="708" y="503.86" width="16" height="6.50" fill="#0000d2"/><rect x="708" y="509.76" width="16" height="6.50" fill="#0000c3"/><rect x="708" y="515.67" width="16" height="6.50" fill="#0000b9"/><rect x="708" y="521.57" width="16" height="6.50" fill="#0000b0"/><rect x="708" y="527.48" width="16" height="6.50" fill="#0000a8"/><rect x="708" y="533.38" width="16" height="6.50" fill="#00009f"/><rect x="708" y="539.29" width="16" height="6.50" fill="#000096"/><rect x="708" y="545.19" width="16" height="6.50" fill="#00008d"/><rect x="708" y="551.10" width="16" height="5.90" fill="#000084"/></g>
<text x="73.8" y="43" font-size="26" textLength="79.7" lengthAdjust="spacingAndGlyphs">Salinity</text>
<text x="166.6" y="43" font-size="26" textLength="67.4" lengthAdjust="spacingAndGlyphs">(ppt).</text>
<text x="244.1" y="43" font-size="26" textLength="51.7" lengthAdjust="spacingAndGlyphs">Date</text>
<text x="308.6" y="43" font-size="26" textLength="137.1" lengthAdjust="spacingAndGlyphs">2021.10.18.</text>
<text x="459.8" y="43" font-size="26" textLength="52.2" lengthAdjust="spacingAndGlyphs">Time</text>
<text x="525.8" y="43" font-size="26" textLength="139.6" lengthAdjust="spacingAndGlyphs">00(h):00(m)</text>
<text x="679.8" y="43" font-size="26" textLength="46.2" lengthAdjust="spacingAndGlyphs">GMT</text>
<text x="124.0" y="580" font-size="13" text-anchor="middle">28.5</text>
<text x="194.5" y="580" font-size="13" text-anchor="middle">29</text>
<text x="265.5" y="580" font-size="13" text-anchor="middle">29.5</text>
<text x="336.5" y="580" font-size="13" text-anchor="middle">30</text>
<text x="407.5" y="580" font-size="13" text-anchor="middle">30.5</text>
<text x="477.5" y="580" font-size="13" text-anchor="middle">31</text>
<text x="548.5" y="580" font-size="13" text-anchor="middle">31.5</text>
<text x="619.5" y="580" font-size="13" text-anchor="middle">32</text>
<text x="117.5" y="111" font-size="13" text-anchor="end">45.5</text>
<text x="117.5" y="196" font-size="13" text-anchor="end">45</text>
<text x="117.5" y="281" font-size="13" text-anchor="end">44.5</text>
<text x="117.5" y="365" font-size="13" text-anchor="end">44</text>
<text x="117.5" y="450" font-size="13" text-anchor="end">43.5</text>
<text x="117.5" y="535" font-size="13" text-anchor="end">43</text>
<text x="322.5" y="606" font-size="20.5" textLength="88" lengthAdjust="spacingAndGlyphs">Longitude</text>
<text x="421" y="606" font-size="20.5" textLength="55.5" lengthAdjust="spacingAndGlyphs">(East)</text>
<text transform="translate(81.4,384) rotate(-90)" x="0" y="0" font-size="20.5" textLength="73" lengthAdjust="spacingAndGlyphs">Latitude</text>
<text transform="translate(81.4,300.5) rotate(-90)" x="0" y="0" font-size="20.5" textLength="64.5" lengthAdjust="spacingAndGlyphs">(North)</text>
<text x="734.8" y="74" font-size="14" textLength="29.2" lengthAdjust="spacingAndGlyphs">18.9</text>
<text x="735.2" y="190" font-size="14" textLength="29.4" lengthAdjust="spacingAndGlyphs">16.7</text>
<text x="735.1" y="312" font-size="14" textLength="29.3" lengthAdjust="spacingAndGlyphs">14.3</text>
<text x="735.1" y="434" font-size="14" textLength="29.3" lengthAdjust="spacingAndGlyphs">12.0</text>
<text x="733.9" y="556" font-size="14" textLength="31.2" lengthAdjust="spacingAndGlyphs">9.67</text>
<text x="145.9" y="110" font-size="19" fill="#333" textLength="13.3" lengthAdjust="spacingAndGlyphs">Z</text>
<text x="174.2" y="110" font-size="19" fill="#333" textLength="15.6" lengthAdjust="spacingAndGlyphs">=</text>
<text x="205.7" y="110" font-size="19" fill="#333" textLength="13.1" lengthAdjust="spacingAndGlyphs">2</text>
<text x="220.6" y="110" font-size="19" fill="#333" textLength="4.2" lengthAdjust="spacingAndGlyphs">.</text>
<text x="227.6" y="110" font-size="19" fill="#333" textLength="13.9" lengthAdjust="spacingAndGlyphs">5</text>
<text x="255.7" y="110" font-size="19" fill="#333" textLength="20.8" lengthAdjust="spacingAndGlyphs">m</text>
</svg></body></html>
